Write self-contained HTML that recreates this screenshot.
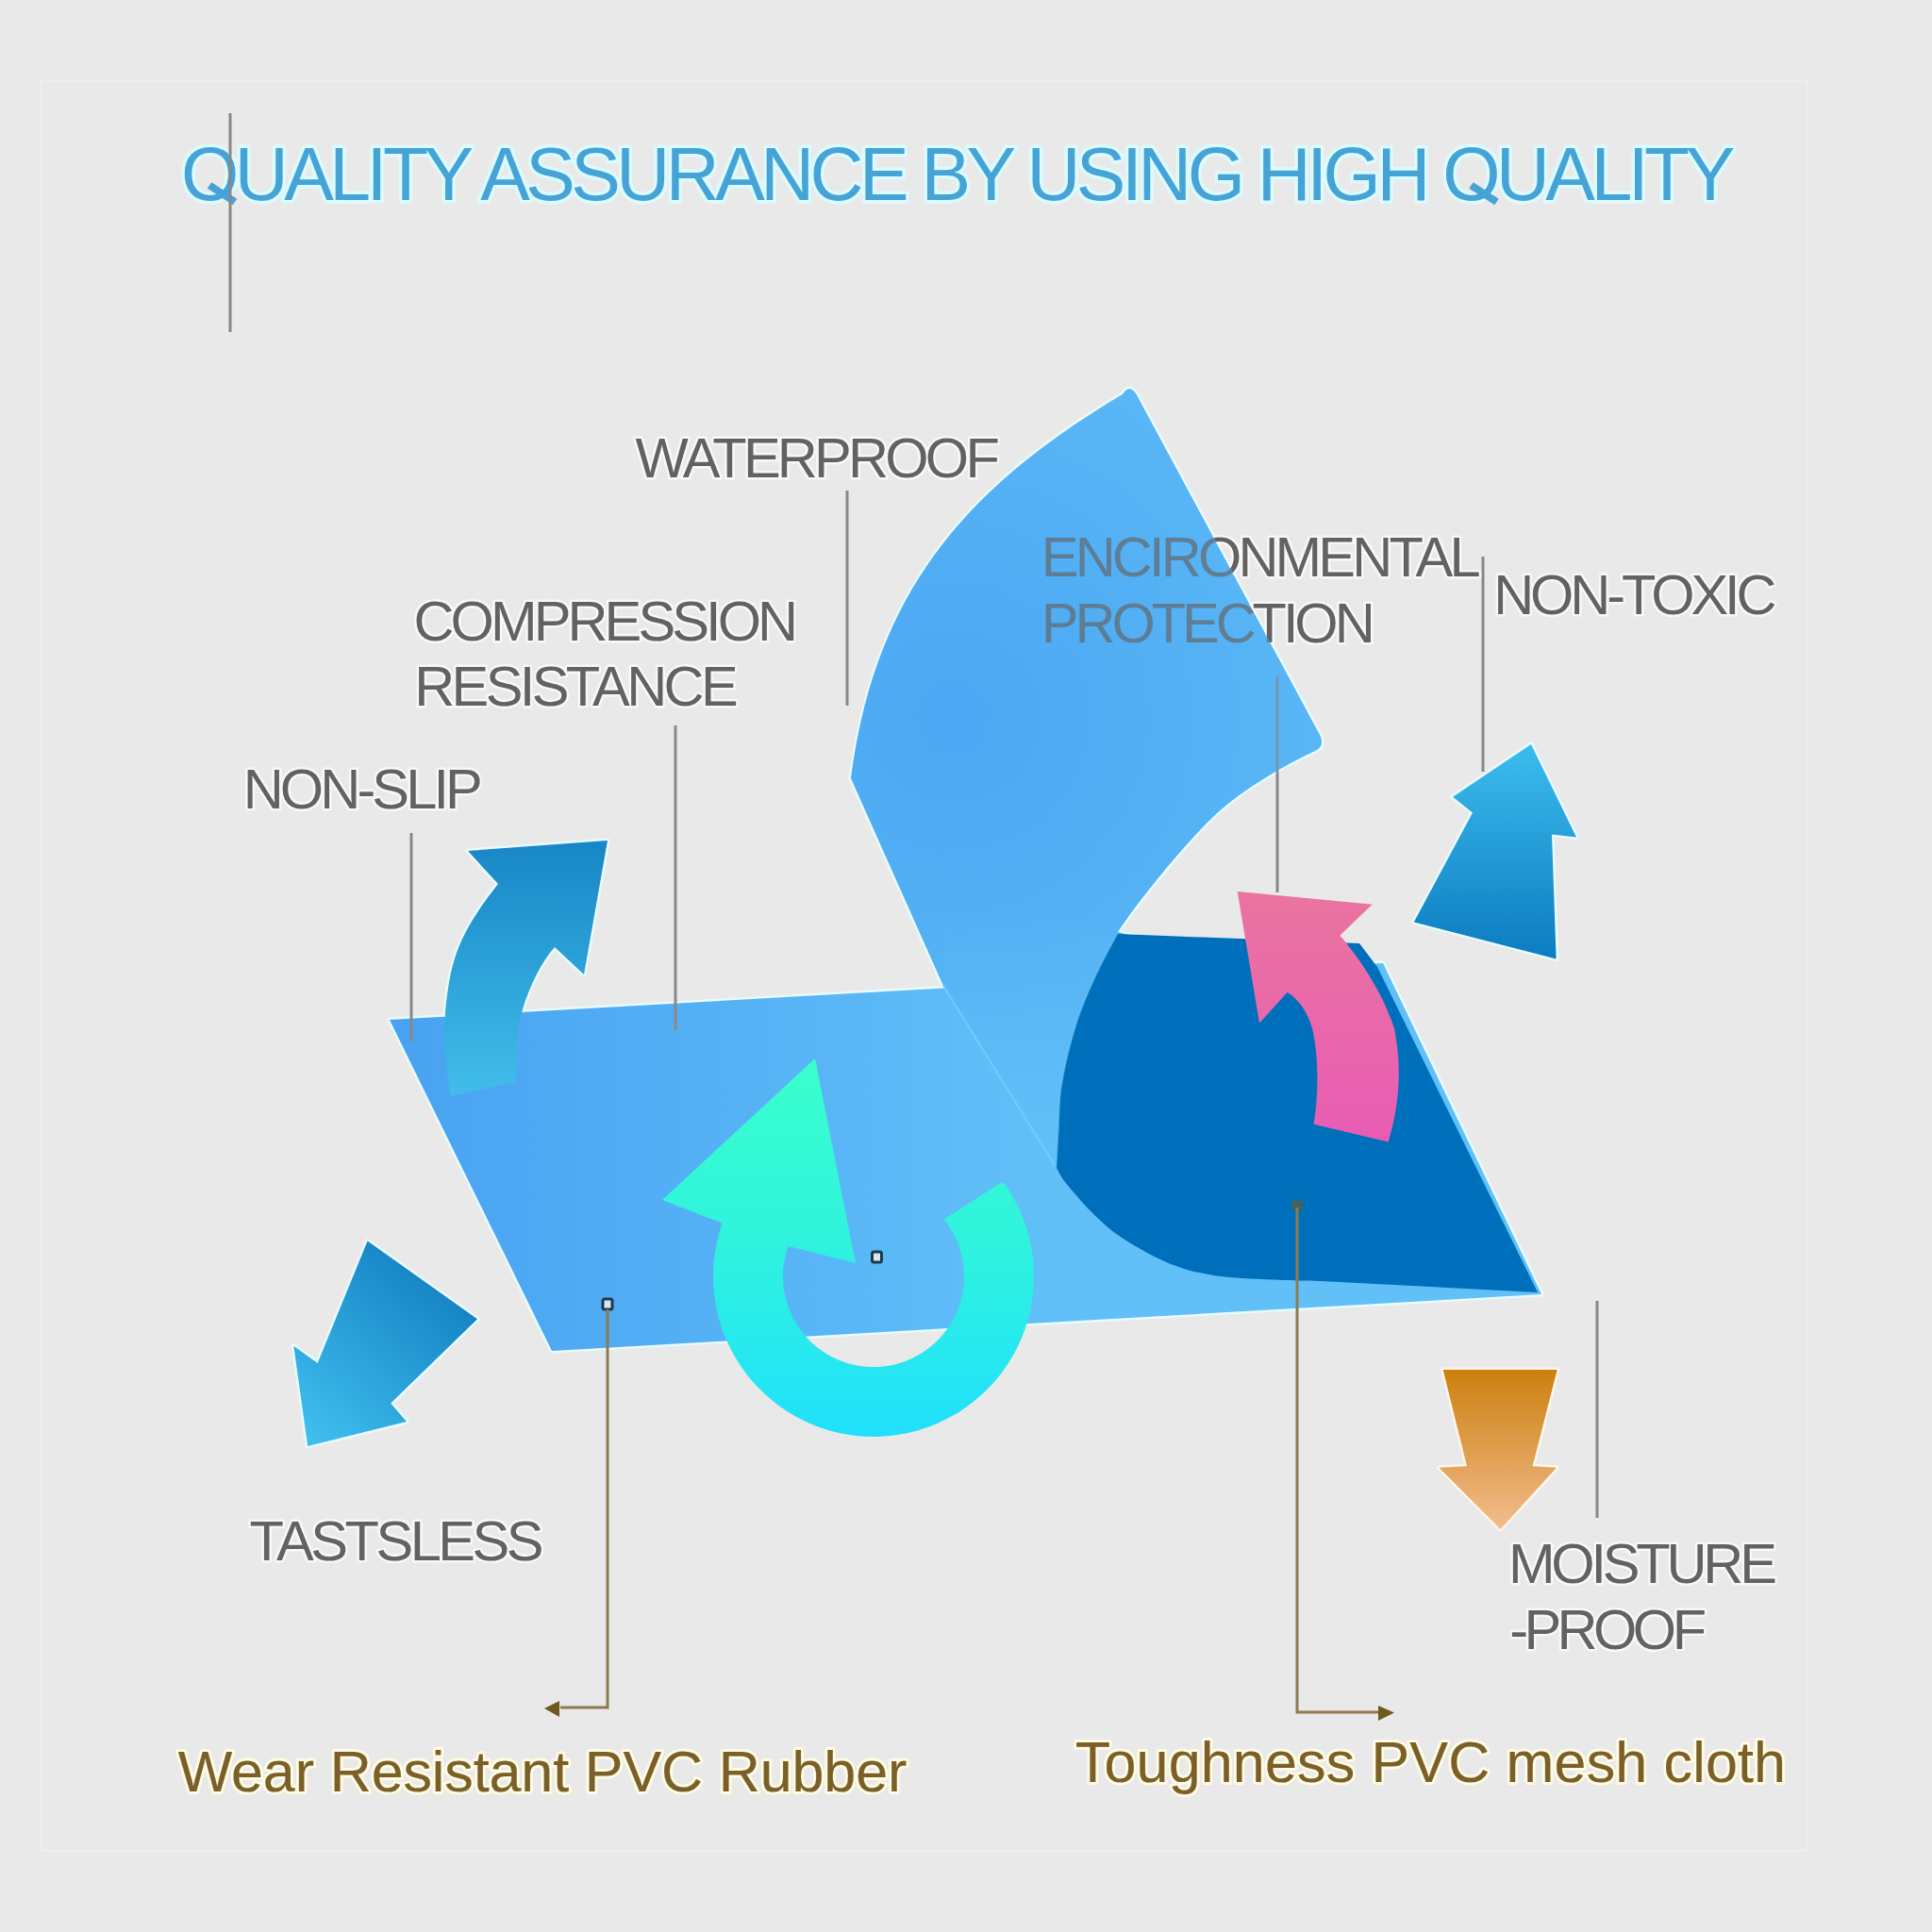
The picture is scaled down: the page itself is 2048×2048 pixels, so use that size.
<!DOCTYPE html>
<html><head><meta charset="utf-8">
<style>
html,body{margin:0;padding:0;background:#e9e9e9;}
body{width:2048px;height:2048px;overflow:hidden;}
svg{display:block;}
text{font-family:"Liberation Sans",sans-serif;}
.lab{fill:#646261;stroke:#f8f8f8;stroke-width:5;paint-order:stroke;stroke-linejoin:round;}
.halo{fill:none;stroke:#f7f7f7;stroke-width:5;stroke-linejoin:round;}
</style></head>
<body>
<svg width="2048" height="2048" viewBox="0 0 2048 2048" xmlns="http://www.w3.org/2000/svg">
<defs>
  <linearGradient id="gFlat" x1="413" y1="0" x2="1120" y2="0" gradientUnits="userSpaceOnUse">
    <stop offset="0" stop-color="#48a2f2"/><stop offset="1" stop-color="#62c0f8"/>
  </linearGradient>
  <radialGradient id="gCurl" cx="1010" cy="760" r="430" gradientUnits="userSpaceOnUse">
    <stop offset="0" stop-color="#4ba7f2"/><stop offset="1" stop-color="#5bb8f6"/>
  </radialGradient>
  <linearGradient id="gCurlLow" x1="0" y1="960" x2="0" y2="1240" gradientUnits="userSpaceOnUse">
    <stop offset="0" stop-color="#5cbaf6" stop-opacity="0"/><stop offset="1" stop-color="#62c2f8" stop-opacity="1"/>
  </linearGradient>
  <linearGradient id="gA1" x1="0" y1="891" x2="0" y2="1162" gradientUnits="userSpaceOnUse">
    <stop offset="0" stop-color="#1786c6"/><stop offset="1" stop-color="#42bdea"/>
  </linearGradient>
  <linearGradient id="gA2" x1="0" y1="789" x2="0" y2="1016" gradientUnits="userSpaceOnUse">
    <stop offset="0" stop-color="#3cbcee"/><stop offset="1" stop-color="#0c7cc0"/>
  </linearGradient>
  <linearGradient id="gA3" x1="500" y1="1330" x2="330" y2="1530" gradientUnits="userSpaceOnUse">
    <stop offset="0" stop-color="#0d78bc"/><stop offset="1" stop-color="#40bfee"/>
  </linearGradient>
  <linearGradient id="gPink" x1="0" y1="945" x2="0" y2="1210" gradientUnits="userSpaceOnUse">
    <stop offset="0" stop-color="#ea74a0"/><stop offset="1" stop-color="#e85cb4"/>
  </linearGradient>
  <linearGradient id="gRing" x1="0" y1="1122" x2="0" y2="1523" gradientUnits="userSpaceOnUse">
    <stop offset="0" stop-color="#3affcc"/><stop offset="0.45" stop-color="#30f4dc"/><stop offset="1" stop-color="#20e0fc"/>
  </linearGradient>
  <linearGradient id="gOr" x1="0" y1="1452" x2="0" y2="1621" gradientUnits="userSpaceOnUse">
    <stop offset="0" stop-color="#cc800e"/><stop offset="1" stop-color="#f2bc8e"/>
  </linearGradient>
  <path id="curl" d="M1190,418 Q1197,407 1204,417 L1399,779 Q1405,791 1394,796 C1360,812 1320,835 1290,862 C1260,890 1210,950 1185,988 L1230,1000 L1230,1240 L1119.4,1237 L1000,1045 L902,825 C928,625 1026.7,515 1190,418 Z"/>
  <clipPath id="inCurl"><use href="#curl"/></clipPath>
  <clipPath id="outCurl"><path d="M0,0 H2048 V2048 H0 Z M1190,418 Q1197,407 1204,417 L1399,779 Q1405,791 1394,796 C1360,812 1320,835 1290,862 C1260,890 1210,950 1185,988 L1230,1000 L1230,1240 L1119.4,1237 L1000,1045 L902,825 C928,625 1026.7,515 1190,418 Z" clip-rule="evenodd"/></clipPath>
  <clipPath id="aboveFlat"><polygon points="0,0 2048,0 2048,988.8 0,1104.3"/></clipPath>
</defs>
<rect width="2048" height="2048" fill="#e9e9e9"/>
<rect x="43" y="86" width="1873" height="1876" fill="none" stroke="#eeeeee" stroke-width="2"/>

<!-- title -->
<g font-size="78.8" letter-spacing="-4.51">
<text x="192" y="211.5" fill="#45a3d6" stroke="#dcfbff" stroke-width="7" paint-order="stroke" stroke-linejoin="round">OUALITY ASSURANCE BY USING HIGH OUALITY</text>
</g>
<g stroke="#45a3d6" stroke-width="8" stroke-linecap="butt">
<line x1="222" y1="196.5" x2="249" y2="214"/>
<line x1="1559.5" y1="196.5" x2="1586.5" y2="214"/>
</g>
<line x1="244" y1="120" x2="244" y2="352" stroke="#888" stroke-width="3"/>

<!-- flat sheet -->
<polygon points="413,1081 1466,1021 1634,1372 585,1432" fill="url(#gFlat)" stroke="#e9fbff" stroke-width="5" paint-order="stroke" stroke-linejoin="round"/>
<!-- curled sheet -->
<use href="#curl" fill="none" stroke="#e9fbff" stroke-width="5" stroke-linejoin="round" clip-path="url(#aboveFlat)"/>
<use href="#curl" fill="url(#gCurl)"/>
<!-- gray lines -->
<g stroke="#888" stroke-width="3">
<line x1="898" y1="520" x2="898" y2="748"/>
<line x1="716" y1="769" x2="716" y2="1092"/>
<line x1="436" y1="883" x2="436" y2="1104"/>
<line x1="1354" y1="716" x2="1354" y2="946"/>
<line x1="1572" y1="590" x2="1572" y2="818"/>
<line x1="1693" y1="1379" x2="1693" y2="1609"/>
</g>
<!-- labels over sheet (drawn before overlay) -->
<g font-size="59.6" clip-path="url(#outCurl)">
<text x="1103.8" y="611" letter-spacing="-3.86" class="lab">ENCIRONMENTAL</text>
<text x="1103.8" y="680.5" letter-spacing="-4.09" class="lab">PROTECTION</text>
</g>

<g font-size="59.6" clip-path="url(#inCurl)" fill="#646261">
<text x="1103.8" y="611" letter-spacing="-3.86">ENCIRONMENTAL</text>
<text x="1103.8" y="680.5" letter-spacing="-4.09">PROTECTION</text>
</g>
<use href="#curl" fill="url(#gCurl)" opacity="0.35"/>
<path d="M1000,1045 L1119.4,1237 C1119.8,1230.3 1120.8,1211.1 1121.7,1196.6 C1122.6,1182.1 1122.0,1168.3 1125.0,1150.0 C1128.0,1131.7 1134.1,1106.1 1140.0,1087.0 C1145.9,1067.9 1153.1,1051.9 1160.6,1035.4 C1168.1,1018.9 1180.9,995.9 1185.0,988.0 L1000,960 Z" fill="url(#gCurlLow)"/>
<path d="M1000,1045 L1119,1237" stroke="#72cefc" stroke-width="2.5" opacity="0.8"/>
<!-- dark region -->
<path d="M1185,990 L1441,1000 L1460,1025 L1630,1370 L1400,1358 C1391.4,1357.8 1367.4,1357.5 1348.4,1356.5 C1329.5,1355.5 1304.4,1354.8 1286.3,1351.9 C1268.2,1349.1 1255.3,1345.6 1239.8,1339.4 C1224.2,1333.2 1206.0,1322.9 1193.0,1314.6 C1180.0,1306.3 1172.3,1299.6 1162.0,1289.8 C1151.7,1280.0 1138.1,1264.4 1131.0,1255.6 C1123.9,1246.8 1121.3,1240.1 1119.4,1237.0 C1119.8,1230.3 1120.8,1211.1 1121.7,1196.6 C1122.6,1182.1 1122.0,1168.3 1125.0,1150.0 C1128.0,1131.7 1134.1,1106.1 1140.0,1087.0 C1145.9,1067.9 1153.1,1051.9 1160.6,1035.4 C1168.1,1018.9 1180.9,995.9 1185.0,988.0 Z" fill="#006fbb"/>
<path d="M1119.4,1237 C1119.8,1230.3 1120.8,1211.1 1121.7,1196.6 C1122.6,1182.1 1122.0,1168.3 1125.0,1150.0 C1128.0,1131.7 1134.1,1106.1 1140.0,1087.0 C1145.9,1067.9 1153.1,1051.9 1160.6,1035.4 C1168.1,1018.9 1180.9,995.9 1185.0,988.0" fill="none" stroke="#6ccafc" stroke-width="2" opacity="0.6"/>

<!-- arrow 1 (non-slip) -->
<path d="M496,902 L644,891 L619,1033 L588,1004 C570,1024 555,1060 550,1086 C548,1110 547,1130 547,1147 L478,1162 C470,1120 468,1080 478,1031 C485,1000 498,975 528,937 Z" fill="none" stroke="#e9fbff" stroke-width="5" stroke-linejoin="round" clip-path="url(#aboveFlat)"/>
<path d="M496,902 L644,891 L619,1033 L588,1004 C570,1024 555,1060 550,1086 C548,1110 547,1130 547,1147 L478,1162 C470,1120 468,1080 478,1031 C485,1000 498,975 528,937 Z" fill="url(#gA1)"/>
<!-- arrow 2 (non-toxic) -->
<polygon points="1623,789 1671,887.5 1645,884.6 1649.6,1016.5 1498.8,977.4 1561,861.4 1540,844.8" fill="url(#gA2)" stroke="#e9fbff" stroke-width="5" paint-order="stroke" stroke-linejoin="round"/>
<!-- arrow 3 (tastsless) -->
<polygon points="389.6,1315.5 506,1398.3 414.2,1487.6 431,1507 326.2,1532.9 311.3,1426.8 336.6,1444.9" fill="url(#gA3)" stroke="#e9fbff" stroke-width="5" paint-order="stroke" stroke-linejoin="round"/>
<!-- pink arrow -->
<path d="M1311.7,944.9 L1454.6,958.8 L1420.5,991.5 C1440,1015 1465,1050 1478,1090 C1486,1130 1484,1170 1471.7,1210.5 L1392.5,1191.8 C1398,1160 1398,1120 1391,1090 C1385,1070 1375,1058 1364.6,1052 L1335,1084.6 Z" fill="url(#gPink)"/>
<!-- cyan ring arrow -->
<path d="M864,1122 L907,1339 L835.5,1321 A96,96 0 1 0 1000.6,1292.6 L1063.2,1252.5 A170,170 0 1 1 765.6,1296.7 L702,1272 Z" fill="url(#gRing)"/>
<!-- orange arrow -->
<polygon points="1529.7,1452 1650.7,1452 1624.6,1554.2 1650,1555.7 1590.6,1620.9 1525.4,1555.7 1555,1554.2" fill="url(#gOr)" stroke="#fff6ea" stroke-width="5" paint-order="stroke" stroke-linejoin="round"/>

<!-- markers -->
<rect x="924.5" y="1327" width="10" height="11" rx="2" fill="#d8e6ee" stroke="#1a3a50" stroke-width="3"/>
<rect x="639" y="1377" width="10" height="11" rx="2" fill="#d8e6ee" stroke="#1a3a50" stroke-width="3"/>

<!-- brown L lines -->
<g stroke="#8e7a50" stroke-width="3" fill="none">
<polyline points="644,1388 644,1810 594,1810"/>
<polyline points="1375,1280 1375,1815 1462,1815"/>
</g>
<polygon points="577,1811 593,1803 593,1820" fill="#6e5a1e"/>
<polygon points="1478,1815.5 1461,1808 1461,1824" fill="#6e5a1e"/>
<path d="M1369,1272 L1381,1282 M1381,1272 L1369,1282" stroke="#6e5a30" stroke-width="2.5"/>

<!-- labels -->
<g font-size="59.6">
<text x="673.5" y="505.6" letter-spacing="-3.79" class="lab">WATERPROOF</text>
<text x="438.5" y="678.8" letter-spacing="-3.94" class="lab">COMPRESSION</text>
<text x="439.2" y="747.5" letter-spacing="-3.66" class="lab">RESISTANCE</text>
<text x="257.7" y="856.6" letter-spacing="-3.91" class="lab">NON-SLIP</text>
<text x="1583.2" y="651.2" letter-spacing="-4.11" class="lab">NON-TOXIC</text>
<text x="264.5" y="1653.7" letter-spacing="-3.5" class="lab">TASTSLESS</text>
<text x="1598.9" y="1677.8" letter-spacing="-4.22" class="lab">MOISTURE</text>
<text x="1600.2" y="1747.6" letter-spacing="-4.58" class="lab">-PROOF</text>
</g>
<g fill="none" font-size="61" stroke="#fffbe4" stroke-width="6" stroke-linejoin="round">
<text x="188.7" y="1898.5" letter-spacing="-0.11">Wear Resistant PVC Rubber</text>
<text x="1139.8" y="1889.4" letter-spacing="0.17">Toughness PVC mesh cloth</text>
</g>
<g fill="#7a6028" font-size="61" stroke="#7a6028" stroke-width="0.2" stroke-linejoin="round">
<text x="188.7" y="1898.5" letter-spacing="-0.11">Wear Resistant PVC Rubber</text>
<text x="1139.8" y="1889.4" letter-spacing="0.17">Toughness PVC mesh cloth</text>
</g>
</svg>
</body></html>
